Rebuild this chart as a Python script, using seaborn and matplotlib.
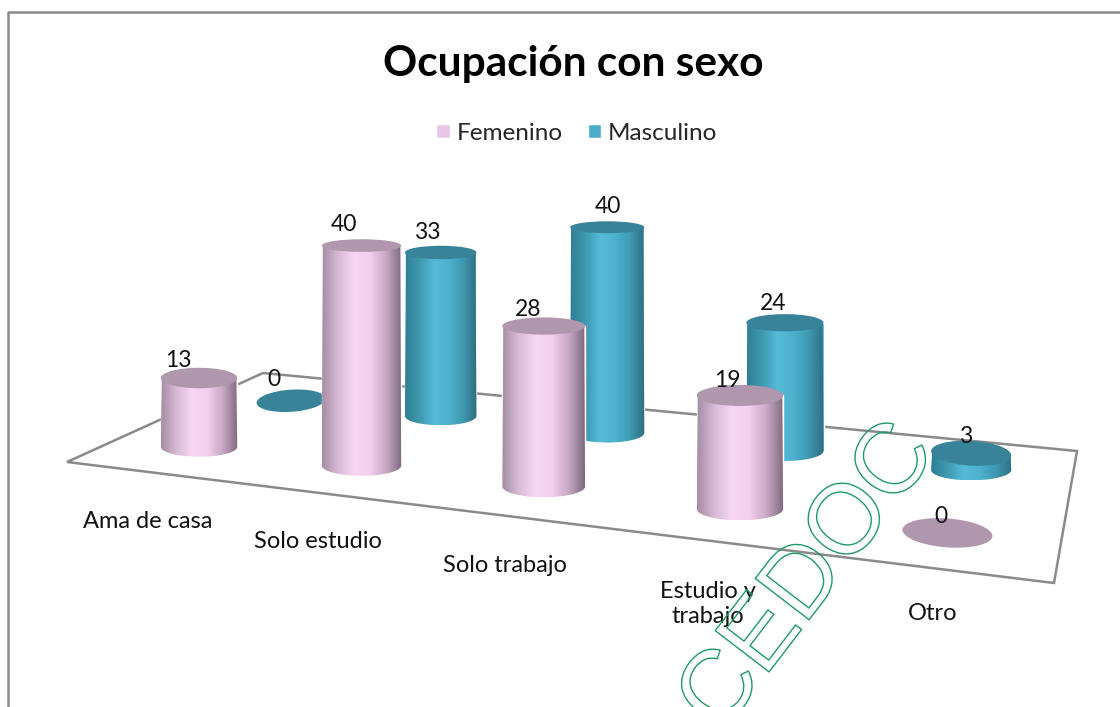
import matplotlib
import numpy as np
import pandas as pd

matplotlib.use("Agg")
import matplotlib.patheffects as path_effects
import matplotlib.pyplot as plt
import seaborn as sns
from matplotlib.colors import LinearSegmentedColormap
from matplotlib.patches import Ellipse, Polygon


TITLE = "Ocupación con sexo"
CATEGORIES = ["Ama de casa", "Solo estudio", "Solo trabajo", "Estudio y\ntrabajo", "Otro"]
SERIES = ["Femenino", "Masculino"]
FEMENINO = [13, 40, 28, 19, 0]
MASCULINO = [0, 33, 40, 24, 3]
WATERMARK = "CEDOC"

# floor of the 3d chart on the page: front left, front right, back right, back left
FLOOR = [(67, 462), (1054, 583), (1077, 451), (263, 373)]
U_POS = [0.505, 1.49, 2.51, 3.52, 4.5]
V_POS = [0.47, 1.47]
LABEL_XY = [(148, 522), (318, 542), (505, 566), (708, 604), (933, 614)]
VALUE_NUDGE = {
    "Femenino": [(-21, -18), (-18, -21), (-16, -17), (-13, -15), (-6, -16)],
    "Masculino": [(-17, -21), (-13, -20), (1, -21), (-12, -19), (-6, -17)],
}
BODY_WIDTH = 78.0
UNIT_HEIGHT = 5.4

PALETTE = {"Femenino": "#E9C6E6", "Masculino": "#4BADC8"}
TOP_COLORS = {"Femenino": "#B097AD", "Masculino": "#38839A"}
SHADES = {
    "Femenino": ["#A68CA4", "#D9BAD6", "#F6D6F3", "#F2D0EE", "#C9A9C5", "#7F6A80"],
    "Masculino": ["#2E7F93", "#3F98AF", "#54BAD8", "#4FB2CF", "#3F9AB3", "#2F6F80"],
}


def floor_matrix() -> np.ndarray:
    source = [(0, 0), (5, 0), (5, 2), (0, 2)]
    rows, targets = [], []
    for (u, v), (x, y) in zip(source, FLOOR):
        rows.append([u, v, 1, 0, 0, 0, -u * x, -v * x])
        rows.append([0, 0, 0, u, v, 1, -u * y, -v * y])
        targets.extend([x, y])
    solved = np.linalg.solve(np.array(rows, dtype=float), np.array(targets, dtype=float))
    return np.append(solved, 1.0).reshape(3, 3)


def project(matrix: np.ndarray, u: float, v: float) -> tuple:
    x, y, w = matrix @ np.array([u, v, 1.0])
    return x / w, y / w, 1.0 / w


def build_table() -> pd.DataFrame:
    matrix = floor_matrix()
    _, _, middle = project(matrix, 2.5, 1.0)
    rows = []
    for v, name, values in zip(V_POS, SERIES, [FEMENINO, MASCULINO]):
        for u, value in zip(U_POS, values):
            x, y, scale = project(matrix, u, v)
            scale = scale / middle
            rows.append(
                {
                    "sexo": name,
                    "valor": value,
                    "px": x,
                    "base": y,
                    "ancho": BODY_WIDTH * scale,
                    "alto": value * UNIT_HEIGHT * scale,
                }
            )
    return pd.DataFrame(rows)


def draw_cylinder(ax, patch, row, name, zorder) -> None:
    half = row.ancho / 2
    radius_y = row.ancho * 0.13
    top_y = row.base - row.alto
    left, right = row.px - half, row.px + half

    patch.set_x(left)
    patch.set_width(row.ancho)
    patch.set_y(row.base)
    patch.set_height(-row.alto)
    patch.set_zorder(zorder)

    if row.valor > 0:
        angles = np.linspace(np.pi, 0, 40)
        bottom_arc = np.column_stack([row.px + half * np.cos(angles), row.base + radius_y * np.sin(angles)])
        outline = np.vstack([[left + 1, top_y], bottom_arc, [right - 1, top_y]])
        clip = Polygon(outline, closed=True, transform=ax.transData)
        cmap = LinearSegmentedColormap.from_list(name, SHADES[name])
        image = ax.imshow(
            np.linspace(0, 1, 128).reshape(1, -1),
            cmap=cmap,
            extent=(left, right, row.base + radius_y, top_y),
            aspect="auto",
            zorder=zorder,
        )
        image.set_clip_path(clip)

    # caps get flatter the higher they sit, and low ones follow the floor
    flatness = max(0.0, 1 - row.valor / 10)
    tilt = (row.px - 600) / 400 * 5 * flatness
    ax.add_patch(
        Ellipse(
            (row.px, top_y),
            row.ancho,
            row.ancho * (0.32 - 0.004 * row.valor),
            angle=tilt,
            facecolor=TOP_COLORS[name],
            edgecolor="none",
            zorder=zorder + 0.1,
        )
    )


def main() -> None:
    sns.set_theme(style="white")
    plt.rcParams["font.family"] = ["Lato", "DejaVu Sans"]

    df = build_table()

    fig, ax = plt.subplots(figsize=(11.2, 7.07), dpi=100)
    fig.subplots_adjust(left=0, right=1, bottom=0, top=1)
    ax.add_patch(Polygon(FLOOR, closed=True, facecolor="white", edgecolor="#8A8A8A", linewidth=1.8, zorder=1))

    sns.barplot(
        data=df,
        x="px",
        y="alto",
        hue="sexo",
        hue_order=SERIES,
        palette=PALETTE,
        saturation=1,
        native_scale=True,
        dodge=False,
        errorbar=None,
        ax=ax,
    )

    for container, name in zip(ax.containers, SERIES):
        subset = df[df["sexo"] == name].reset_index(drop=True)
        zorder = 3 if name == "Masculino" else 4
        for patch, row in zip(container.patches, subset.itertuples(index=False)):
            draw_cylinder(ax, patch, row, name, zorder)
        for row, (dx, dy) in zip(subset.itertuples(index=False), VALUE_NUDGE[name]):
            ax.text(
                row.px + dx,
                row.base - row.alto + dy,
                str(row.valor),
                ha="center",
                va="center",
                fontsize=16.5,
                color="#111111",
                zorder=6,
            )

    for label, (x, y) in zip(CATEGORIES, LABEL_XY):
        ax.text(x, y, label, ha="center", va="center", fontsize=17, color="#111111", linespacing=1.25, zorder=6)

    ax.text(573, 64, TITLE, ha="center", va="center", fontsize=30.5, fontweight="bold", color="black", zorder=6)

    ax.text(
        809,
        578,
        WATERMARK,
        ha="center",
        va="center",
        rotation=52.5,
        rotation_mode="anchor",
        family="Liberation Sans",
        fontsize=71,
        color="none",
        path_effects=[path_effects.Stroke(linewidth=1.0, foreground="#1F9A66")],
        zorder=7,
    )

    ax.plot([8, 8, 1120], [707, 12, 12], color="#8A8A8A", linewidth=1.8, zorder=8)

    ax.set_xlim(0, 1120)
    ax.set_ylim(707, 0)
    ax.axis("off")

    sns.move_legend(
        ax,
        "center",
        bbox_to_anchor=(577 / 1120, 1 - 133 / 707),
        ncol=2,
        title=None,
        frameon=False,
        fontsize=17.5,
        handlelength=0.55,
        handleheight=0.55,
        handletextpad=0.3,
        columnspacing=1.0,
    )

    fig.savefig("out.png", dpi=100, facecolor="white")
    plt.close(fig)


if __name__ == "__main__":
    main()
